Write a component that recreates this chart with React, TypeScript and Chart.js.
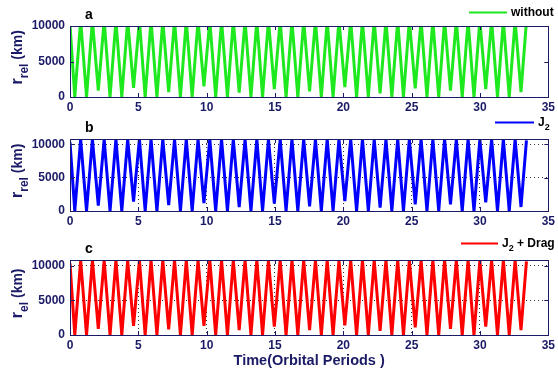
import React, { useEffect, useRef } from "react";
import { Chart, registerables } from "chart.js";
Chart.register(...registerables);

const xTickValues = [0, 5, 10, 15, 20, 25, 30, 35];
const yTickValues = [0, 5000, 10000];

const troughTimes = [0.35, 1.21, 2.07, 2.93, 3.79, 4.65, 5.5, 6.36, 7.22, 8.08, 8.94, 9.8, 10.66, 11.52, 12.38, 13.24, 14.09, 14.95, 15.81, 16.67, 17.53, 18.39, 19.25, 20.11, 20.97, 21.83, 22.69, 23.55, 24.4, 25.26, 26.12, 26.98, 27.84, 28.7, 29.56, 30.42, 31.28, 32.14, 33.0];
const peakTimes = [0.78, 1.64, 2.5, 3.36, 4.22, 5.08, 5.93, 6.79, 7.65, 8.51, 9.37, 10.23, 11.09, 11.95, 12.81, 13.67, 14.52, 15.38, 16.24, 17.1, 17.96, 18.82, 19.68, 20.54, 21.4, 22.26, 23.12, 23.98, 24.83, 25.69, 26.55, 27.41, 28.27, 29.13, 29.99, 30.85, 31.71, 32.57, 33.4];

const troughsWithout = [0, 0, 900, 0, 0, 1300, 0, 0, 700, 0, 0, 1500, 0, 0, 600, 0, 0, 1100, 0, 0, 800, 0, 0, 1400, 0, 0, 500, 0, 0, 1200, 0, 0, 900, 0, 0, 1100, 0, 0, 700];
const peaksWithout = [10800, 10800, 10800, 10800, 10800, 10800, 10800, 10800, 10800, 10800, 10800, 10800, 10800, 10800, 10800, 10800, 10800, 10800, 10800, 10800, 10800, 10800, 10800, 10800, 10800, 10800, 10800, 10800, 10800, 10800, 10800, 10800, 10800, 10800, 10800, 10800, 10800, 10800, 10700];

const troughsJ2 = [0, 0, 800, 0, 0, 1400, 0, 0, 900, 0, 0, 1200, 0, 0, 600, 0, 0, 1100, 0, 0, 700, 0, 0, 1500, 0, 0, 500, 0, 0, 1000, 0, 0, 1000, 0, 0, 1300, 0, 0, 600];
const peaksJ2 = [10750, 10780, 10760, 10790, 10750, 10780, 10770, 10790, 10760, 10780, 10750, 10790, 10770, 10780, 10760, 10790, 10750, 10780, 10770, 10790, 10760, 10780, 10750, 10790, 10770, 10780, 10760, 10790, 10750, 10780, 10770, 10790, 10760, 10780, 10750, 10790, 10770, 10780, 10600];

const troughsDrag = [0, 0, 900, 0, 0, 1300, 0, 0, 800, 0, 0, 1300, 0, 0, 700, 0, 0, 1200, 0, 0, 700, 0, 0, 1400, 0, 0, 600, 0, 0, 1100, 0, 0, 900, 0, 0, 1200, 0, 0, 700];
const peaksDrag = [10760, 10790, 10770, 10800, 10760, 10790, 10780, 10800, 10770, 10790, 10760, 10800, 10780, 10790, 10770, 10800, 10760, 10790, 10780, 10800, 10770, 10790, 10760, 10800, 10780, 10790, 10770, 10800, 10760, 10790, 10780, 10800, 10770, 10790, 10760, 10800, 10780, 10790, 10600];

const startValues = [10200, 10300, 10300];

const NAVY = "#1a1a66";
const FONT = "'Liberation Sans', Arial, sans-serif";

function buildPoints(start: number, troughs: number[], peaks: number[]) {
  const pts: { x: number; y: number }[] = [{ x: 0, y: start }];
  for (let k = 0; k < troughTimes.length; k++) {
    pts.push({ x: troughTimes[k], y: troughs[k] });
    pts.push({ x: peakTimes[k], y: peaks[k] });
  }
  return pts;
}

type Panel = {
  top: number;
  height: number;
  padTop: number;
  xh: number;
  yMax: number;
  grid: boolean;
  color: string;
  letter: string;
  sub: string;
  legendMain: string;
  legendSub: string;
  legendRest: string;
  legendLine: [number, number];
  legendY: number;
  xTitle: boolean;
  points: { x: number; y: number }[];
};

const panels: Panel[] = [
  {
    top: 0, height: 115, padTop: 26, xh: 18, yMax: 10000, grid: false, color: "#1ee81e",
    letter: "a", sub: "rel", legendMain: "without", legendSub: "", legendRest: "",
    legendLine: [469, 507], legendY: 12, xTitle: false,
    points: buildPoints(startValues[0], troughsWithout, peaksWithout),
  },
  {
    top: 115, height: 115, padTop: 24, xh: 19, yMax: 10800, grid: true, color: "#0000ff",
    letter: "b", sub: "rel", legendMain: "J", legendSub: "2", legendRest: "",
    legendLine: [495, 534], legendY: 7, xTitle: false,
    points: buildPoints(startValues[1], troughsJ2, peaksJ2),
  },
  {
    top: 230, height: 141, padTop: 30, xh: 36, yMax: 10800, grid: true, color: "#ff0000",
    letter: "c", sub: "el", legendMain: "J", legendSub: "2", legendRest: " + Drag",
    legendLine: [461, 498], legendY: 13, xTitle: true,
    points: buildPoints(startValues[2], troughsDrag, peaksDrag),
  },
];

function PanelChart({ p }: { p: Panel }) {
  const ref = useRef<HTMLCanvasElement | null>(null);
  useEffect(() => {
    if (!ref.current) return;
    const deco = {
      id: "deco",
      afterDraw(chart: any) {
        const ctx = chart.ctx as CanvasRenderingContext2D;
        const a = chart.chartArea;
        const xs = chart.scales.x;
        const ys = chart.scales.y;
        ctx.save();
        ctx.strokeStyle = NAVY;
        ctx.lineWidth = 1;
        ctx.strokeRect(Math.round(a.left) + 0.5, Math.round(a.top) + 0.5, Math.round(a.right - a.left), Math.round(a.bottom - a.top));
        ctx.beginPath();
        for (const v of xTickValues) {
          const px = Math.round(xs.getPixelForValue(v)) + 0.5;
          ctx.moveTo(px, a.bottom); ctx.lineTo(px, a.bottom - 4);
          ctx.moveTo(px, a.top); ctx.lineTo(px, a.top + 4);
        }
        for (const v of yTickValues) {
          const py = Math.round(ys.getPixelForValue(v)) + 0.5;
          ctx.moveTo(a.left, py); ctx.lineTo(a.left + 4, py);
          ctx.moveTo(a.right, py); ctx.lineTo(a.right - 4, py);
        }
        ctx.stroke();
        ctx.fillStyle = "#000";
        ctx.font = `bold 14px ${FONT}`;
        ctx.textAlign = "left";
        ctx.textBaseline = "middle";
        ctx.fillText(p.letter, 85, p.padTop - 11);
        ctx.save();
        ctx.fillStyle = NAVY;
        ctx.translate(22, (a.top + a.bottom) / 2 - 4);
        ctx.rotate(-Math.PI / 2);
        ctx.textBaseline = "alphabetic";
        ctx.font = `bold 17px ${FONT}`;
        const w1 = ctx.measureText("r").width;
        ctx.font = `bold 12px ${FONT}`;
        const w2 = ctx.measureText(p.sub).width;
        ctx.font = `bold 14px ${FONT}`;
        const w3 = ctx.measureText(" (km)").width;
        let x0 = -(w1 + w2 + w3) / 2;
        ctx.font = `bold 17px ${FONT}`;
        ctx.fillText("r", x0, 0);
        x0 += w1;
        ctx.font = `bold 12px ${FONT}`;
        ctx.fillText(p.sub, x0, 6);
        x0 += w2;
        ctx.font = `bold 14px ${FONT}`;
        ctx.fillText(" (km)", x0, 0);
        ctx.restore();
        ctx.strokeStyle = p.color;
        ctx.lineWidth = 2;
        ctx.beginPath();
        ctx.moveTo(p.legendLine[0], p.legendY + 0.5);
        ctx.lineTo(p.legendLine[1], p.legendY + 0.5);
        ctx.stroke();
        ctx.fillStyle = "#000";
        ctx.textBaseline = "middle";
        ctx.font = `bold 12px ${FONT}`;
        let lx = p.legendLine[1] + 4;
        ctx.fillText(p.legendMain, lx, p.legendY + 1);
        lx += ctx.measureText(p.legendMain).width;
        if (p.legendSub) {
          ctx.font = `bold 9px ${FONT}`;
          ctx.fillText(p.legendSub, lx, p.legendY + 6);
          lx += ctx.measureText(p.legendSub).width;
          ctx.font = `bold 12px ${FONT}`;
        }
        if (p.legendRest) ctx.fillText(p.legendRest, lx, p.legendY + 1);
        if (p.xTitle) {
          ctx.fillStyle = NAVY;
          ctx.font = `bold 14.5px ${FONT}`;
          ctx.textAlign = "center";
          ctx.textBaseline = "middle";
          ctx.fillText("Time(Orbital Periods )", (a.left + a.right) / 2, a.bottom + 26);
        }
        ctx.restore();
      },
    };
    const chart = new Chart(ref.current, {
      type: "line",
      data: {
        datasets: [
          {
            data: p.points,
            borderColor: p.color,
            borderWidth: 3,
            pointRadius: 0,
            tension: 0,
            fill: false,
          },
        ],
      },
      options: {
        animation: false,
        responsive: false,
        events: [],
        layout: { padding: { top: p.padTop, left: 0, right: 4, bottom: 0 } },
        plugins: { legend: { display: false }, tooltip: { enabled: false } },
        scales: {
          x: {
            type: "linear",
            min: 0,
            max: 35,
            afterBuildTicks: (s: any) => { s.ticks = xTickValues.map((v) => ({ value: v })); },
            afterFit: (s: any) => { s.height = p.xh; },
            ticks: { color: NAVY, font: { family: FONT, size: 12, weight: "bold" }, padding: 3, maxRotation: 0, autoSkip: false, callback: (v: any) => String(v) },
            grid: { display: p.grid, color: "#333", drawTicks: false, lineWidth: 1 },
            border: { display: false, dash: [1, 3] },
          },
          y: {
            type: "linear",
            min: 0,
            max: p.yMax,
            afterBuildTicks: (s: any) => { s.ticks = yTickValues.map((v) => ({ value: v })); },
            afterFit: (s: any) => { s.width = 70; },
            ticks: { color: NAVY, font: { family: FONT, size: 12, weight: "bold" }, padding: 5, callback: (v: any) => String(v) },
            grid: { display: p.grid, color: "#333", drawTicks: false, lineWidth: 1 },
            border: { display: false, dash: [1, 3] },
          },
        },
      },
      plugins: [deco],
    } as any);
    return () => chart.destroy();
  }, [p]);
  return (
    <canvas
      ref={ref}
      width={558}
      height={p.height}
      style={{ position: "absolute", left: 0, top: p.top, width: 558, height: p.height }}
    />
  );
}

export default function App() {
  return (
    <div style={{ position: "fixed", left: 0, top: 0, width: 558, height: 371, background: "#fff" }}>
      {panels.map((p) => (
        <PanelChart key={p.letter} p={p} />
      ))}
    </div>
  );
}
